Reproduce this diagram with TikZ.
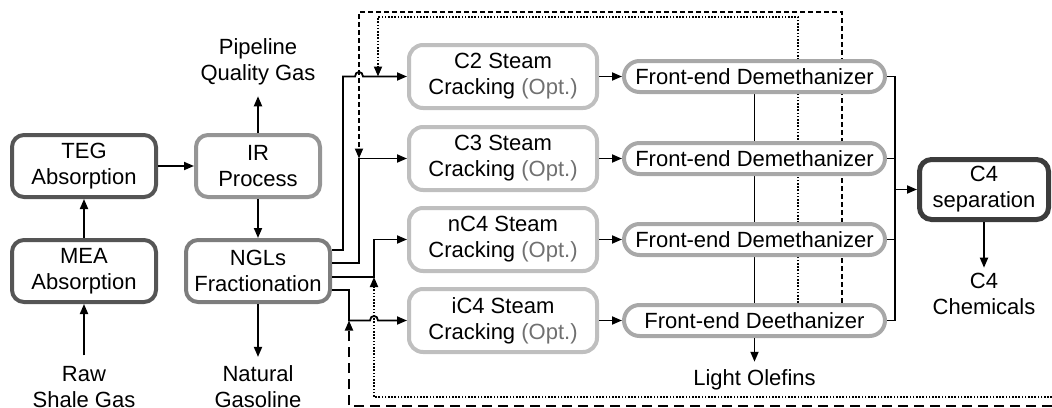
\documentclass[tikz,border=0pt]{standalone}
\usepackage{fontspec}
\setmainfont{Liberation Sans}
\usetikzlibrary{arrows.meta,backgrounds}
\definecolor{cteg}{HTML}{555555}
\definecolor{cir}{HTML}{959595}
\definecolor{cngl}{HTML}{7D7D7D}
\definecolor{ccrack}{HTML}{BFBFBF}
\definecolor{cdem}{HTML}{A8A8A8}
\definecolor{csep}{HTML}{3C3C3C}
\definecolor{copt}{HTML}{707070}
\begin{document}
\begin{tikzpicture}[x=1pt,y=-1pt,
  every node/.style={font=\fontsize{22}{26}\selectfont},
  pbox/.style={draw, fill=white, rounded corners=12pt, line width=4pt, align=center, inner sep=0pt, minimum height=62pt},
  crack/.style={pbox, draw=ccrack, minimum width=188pt, minimum height=63pt, rounded corners=14pt},
  dem/.style={draw=cdem, fill=white, line width=4pt, rounded corners=15.5pt, minimum width=261pt, minimum height=31pt, inner sep=0pt},
  lbl/.style={align=center, inner sep=0pt, outer sep=9pt},
  conn/.style={line width=1.8pt},
  tip/.style={-{Triangle[length=10pt,width=8pt]}},
  arr/.style={conn, tip},
  dsh/.style={conn, dash pattern=on 5pt off 3pt},
  ldsh/.style={conn, dash pattern=on 10pt off 6pt},
  dotln/.style={conn, dash pattern=on 1.6pt off 1.6pt},
]
\useasboundingbox (0,0) rectangle (1052,407);

% process boxes
\node[pbox, draw=cteg, minimum width=144pt] (teg) at (84,166) {TEG\\Absorption};
\node[pbox, draw=cteg, minimum width=144pt] (mea) at (84,271) {MEA\\Absorption};
\node[pbox, draw=cir, minimum width=124pt] (ir) at (258,166) {IR\\Process};
\node[pbox, draw=cngl, minimum width=144pt] (ngl) at (258,271) {NGLs\\Fractionation};

\node[crack] (c2) at (503,76.5) {C2 Steam\\Cracking \textcolor{copt}{(Opt.)}};
\node[crack] (c3) at (503,158.5) {C3 Steam\\Cracking \textcolor{copt}{(Opt.)}};
\node[crack] (nc4) at (503,239.5) {nC4 Steam\\Cracking \textcolor{copt}{(Opt.)}};
\node[crack] (ic4) at (503,320.5) {iC4 Steam\\Cracking \textcolor{copt}{(Opt.)}};

\node[dem] (d1) at (754.5,76.5) {Front-end Demethanizer};
\node[dem] (d2) at (754.5,158.5) {Front-end Demethanizer};
\node[dem] (d3) at (754.5,239.5) {Front-end Demethanizer};
\node[dem] (de) at (754.5,320.5) {Front-end Deethanizer};

\node[pbox, draw=csep, line width=5pt, minimum width=129pt, minimum height=60pt] (sep) at (984,189.5) {C4\\separation};

% labels
\node[lbl, outer sep=11pt] (pipe) at (258,62) {Pipeline\\Quality Gas};
\node[lbl, outer sep=11pt] (raw) at (84,387) {Raw\\Shale Gas};
\node[lbl] (gas) at (258,387) {Natural\\Gasoline};
\node[lbl, outer sep=8pt] (olef) at (754.5,380) {Light Olefins};
\node[lbl, outer sep=5pt] (chem) at (984,293.5) {C4\\Chemicals};

% left part
\draw[arr] (raw) -- (mea);
\draw[arr] (mea) -- (teg);
\draw[arr] (teg) -- (ir);
\draw[arr] (ir) -- (pipe);
\draw[arr] (ir) -- (ngl);
\draw[arr] (ngl) -- (gas);

% NGL outputs
\coordinate (a1) at (343,250);
\coordinate (a2) at (359,263);
\coordinate (a3) at (374,277);
\coordinate (a4) at (349,290);
\draw[arr] (ngl.east |- a1) -- (a1) |- (355,76.5) .. controls (355,70.5) and (363,70.5) .. (363,76.5) -- (c2.west);
\draw[arr] (ngl.east |- a2) -- (a2) |- (c3.west);
\draw[arr] (ngl.east |- a3) -- (a3) |- (nc4.west);
\draw[arr] (ngl.east |- a4) -- (a4) |- (370,320.5) .. controls (370,314.5) and (378,314.5) .. (378,320.5) -- (ic4.west);

% cracking to separation
\draw[arr] (c2.east) -- (c2.east -| d1.west);
\draw[arr] (c3.east) -- (c3.east -| d2.west);
\draw[arr] (nc4.east) -- (nc4.east -| d3.west);
\draw[arr] (ic4.east) -- (ic4.east -| de.west);

\coordinate (k) at (895,189.5);
\draw[conn] (d1.east) -| (k |- de.east) -- (de.east);
\draw[conn] (d2.east) -- (d2.east -| k);
\draw[conn] (d3.east) -- (d3.east -| k);
\draw[arr] (k) -- (sep.west);
\draw[arr] (sep) -- (chem);
\draw[arr] (de.south) -- (olef);

% recycles (behind boxes)
\coordinate (t1) at (842,12);
\coordinate (t2) at (359,12);
\coordinate (u1) at (798,17);
\coordinate (u2) at (378,17);
\coordinate (b1) at (1052,397);
\coordinate (b2) at (1052,406);
\begin{scope}[on background layer]
\draw[conn] (d1.south) -- (de.north);
\draw[dsh, tip] (de.north -| t1) -- (t1) -- (t2) -- (a2 |- c3.west);
\draw[dotln, tip] (de.north -| u1) -- (u1) -- (u2) -- (u2 |- c2.west);
\end{scope}
\draw[dotln, tip] (b1) -- (b1 -| a3) -- (a3);
\draw[ldsh, tip] (b2) -- (b2 -| a4) -- (a4 |- ic4.west);
\end{tikzpicture}
\end{document}
